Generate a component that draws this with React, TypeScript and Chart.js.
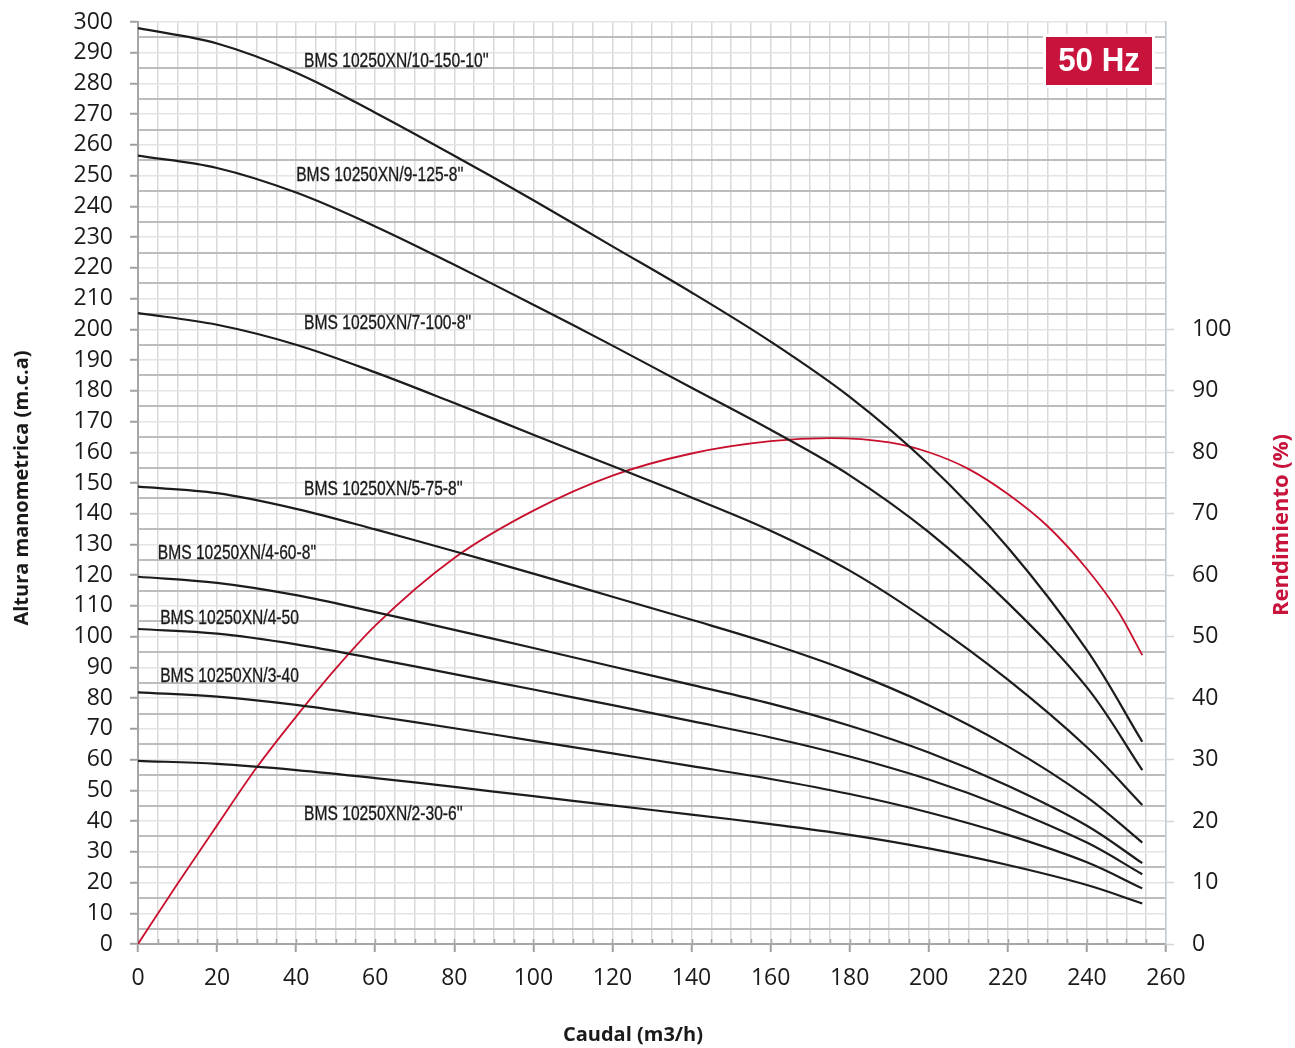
import React, { useEffect, useRef } from 'react';
import { Chart, registerables } from 'chart.js';

Chart.register(...registerables);

// Flow (m3/h) sample points shared by the head curves
const FLOW = [0, 20, 40, 60, 80, 100, 120, 140, 160, 180, 200, 220, 240, 254];

// Head (m.c.a) per pump model
const H_10_150 = [298, 293, 283.5, 270.5, 256.5, 242, 227, 212, 196, 178, 156, 129, 95.6, 65.8];
const H_9_125 = [256.5, 252.5, 244.5, 233.5, 221, 208, 194.7, 181, 167.3, 152.5, 134, 111, 83.5, 56.6];
const H_7_100 = [205.3, 201.5, 195, 186, 176, 165.7, 155.5, 145.3, 134.5, 121.5, 105, 86, 64, 45.2];
const H_5_75 = [148.8, 146.7, 141.6, 134.9, 127.8, 120.5, 113, 105.5, 97.7, 88.7, 77.7, 64.3, 47.8, 33];
const H_4_60 = [119.5, 117.5, 113.5, 108, 102.2, 96.3, 90.3, 84.3, 78.2, 71, 62.3, 51.5, 38.5, 26.3];
const H_4_50 = [102.5, 101, 97.5, 92.8, 87.8, 82.8, 77.7, 72.5, 67.2, 61, 53.5, 44.2, 33, 22.7];
const H_3_40 = [81.9, 80.5, 77.8, 74.1, 70.2, 66.1, 62, 57.9, 53.7, 48.8, 42.8, 35.5, 26.6, 18.1];
const H_2_30 = [59.6, 58.6, 56.6, 54, 51.1, 48.1, 45.1, 42.1, 39, 35.5, 31.1, 25.7, 19.2, 13.2];

// Efficiency curve (%), right axis
const EFF_FLOW = [0, 10, 20, 30, 40, 50, 60, 80, 100, 120, 140, 160, 175, 190, 200, 210, 220, 230, 240, 248, 254];
const EFF = [0, 9.8, 19.3, 28.7, 37, 44.8, 51.8, 62.8, 70.5, 76.2, 79.8, 81.8, 82.3, 81.6, 80, 77.3, 73.2, 68, 61, 54, 47];

const CURVE_NAMES = [
  "BMS 10250XN/10-150-10''",
  "BMS 10250XN/9-125-8''",
  "BMS 10250XN/7-100-8''",
  "BMS 10250XN/5-75-8''",
  "BMS 10250XN/4-60-8''",
  "BMS 10250XN/4-50",
  "BMS 10250XN/3-40",
  "BMS 10250XN/2-30-6''",
];
const LABEL_X = [42, 40, 42, 42, 5, 5.6, 5.6, 42];
const LABEL_Y = [287, 250, 202, 148, 127, 106, 87, 42];

const HEADS = [H_10_150, H_9_125, H_7_100, H_5_75, H_4_60, H_4_50, H_3_40, H_2_30];

const X_TITLE = 'Caudal (m3/h)';
const Y_TITLE = 'Altura manometrica (m.c.a)';
const Y1_TITLE = 'Rendimiento (%)';
const BADGE = '50 Hz';

const RED = '#c8143c';
const TICK_FONT = { family: "'Open Sans', sans-serif", size: 23 };

const overlayPlugin = {
  id: 'overlay',
  afterDatasetsDraw(chart: any) {
    const { ctx, chartArea, scales } = chart;
    const xs = scales.x;
    const ys = scales.y;
    // curve labels
    ctx.save();
    ctx.fillStyle = '#1a1a1a';
    ctx.strokeStyle = '#1a1a1a';
    ctx.lineWidth = 0.35;
    ctx.font = "20px 'Liberation Sans', Arial, sans-serif";
    ctx.textBaseline = 'middle';
    ctx.textAlign = 'left';
    CURVE_NAMES.forEach((name, i) => {
      const px = xs.getPixelForValue(LABEL_X[i]);
      const py = ys.getPixelForValue(LABEL_Y[i]);
      ctx.save();
      ctx.translate(px, py);
      ctx.scale(0.78, 1);
      ctx.fillText(name, 0, 0);
      ctx.strokeText(name, 0, 0);
      ctx.restore();
    });
    ctx.restore();

    // minor ticks inside the plot along the x axis
    ctx.save();
    ctx.strokeStyle = '#a6a6a6';
    ctx.lineWidth = 1.5;
    for (let v = 5; v < 260; v += 5) {
      const px = Math.round(xs.getPixelForValue(v)) + 0.5;
      ctx.beginPath();
      ctx.moveTo(px, chartArea.bottom);
      ctx.lineTo(px, chartArea.bottom - 5);
      ctx.stroke();
    }
    ctx.restore();

    // 50 Hz badge
    ctx.save();
    const bw = 106, bh = 48;
    const bx = chartArea.right - 14 - bw;
    const by = chartArea.top + 15;
    ctx.fillStyle = '#ffffff';
    ctx.fillRect(bx - 3, by - 3, bw + 6, bh + 6);
    ctx.fillStyle = RED;
    ctx.fillRect(bx, by, bw, bh);
    ctx.fillStyle = '#ffffff';
    ctx.font = "bold 34px 'Liberation Sans', Arial, sans-serif";
    ctx.textAlign = 'center';
    ctx.textBaseline = 'middle';
    ctx.translate(bx + bw / 2, by + bh / 2 + 1);
    ctx.scale(0.92, 1);
    ctx.fillText(BADGE, 0, 0);
    ctx.restore();

    // axis titles
    ctx.save();
    ctx.textAlign = 'center';
    ctx.textBaseline = 'middle';
    ctx.fillStyle = '#1a1a1a';
    ctx.font = "bold 20px 'Open Sans', sans-serif";
    ctx.fillText(X_TITLE, 633, 1035);
    ctx.save();
    ctx.translate(22, 488);
    ctx.rotate(-Math.PI / 2);
    ctx.fillText(Y_TITLE, 0, 0);
    ctx.restore();
    ctx.fillStyle = RED;
    ctx.font = "bold 22px 'Open Sans', sans-serif";
    ctx.translate(chart.width - 13, 525);
    ctx.rotate(-Math.PI / 2);
    ctx.fillText(Y1_TITLE, 0, 0);
    ctx.restore();
  },
};

export default function App() {
  const ref = useRef<HTMLCanvasElement | null>(null);

  useEffect(() => {
    document.body.style.margin = '0';
    const canvas = ref.current;
    if (!canvas) return;

    const headSets = HEADS.map((arr, i) => ({
      label: CURVE_NAMES[i],
      data: FLOW.map((q, j) => ({ x: q, y: arr[j] })),
      borderColor: '#1c1c1c',
      borderWidth: 2.2,
      pointRadius: 0,
      fill: false,
      tension: 0.35,
      yAxisID: 'y',
    }));

    const effSet = {
      label: Y1_TITLE,
      data: EFF_FLOW.map((q, j) => ({ x: q, y: EFF[j] })),
      borderColor: '#c8102e',
      borderWidth: 1.8,
      pointRadius: 0,
      fill: false,
      cubicInterpolationMode: 'monotone' as const,
      yAxisID: 'y1',
    };

    const chart = new Chart(canvas, {
      type: 'line',
      data: { datasets: [...headSets, effSet] },
      options: {
        animation: false,
        responsive: false,
        devicePixelRatio: 1,
        layout: { padding: { top: 22, left: 0, right: 0, bottom: 0 } },
        plugins: { legend: { display: false }, tooltip: { enabled: false } },
        scales: {
          x: {
            type: 'linear',
            min: 0,
            max: 260,
            afterFit: (s: any) => { s.height = 104; s.paddingLeft = 0; s.paddingRight = 0; },
            ticks: {
              stepSize: 5,
              autoSkip: false,
              maxRotation: 0,
              padding: 13,
              color: '#1a1a1a',
              font: TICK_FONT,
              callback: (v: any) => (Number(v) % 20 === 0 ? String(v) : ''),
            },
            grid: {
              color: '#d9d9d9',
              lineWidth: 1.5,
              tickLength: 8,
              tickColor: (c: any) => (c.tick && c.tick.value % 20 === 0 ? '#a0a0a0' : 'rgba(0,0,0,0)'),
              tickWidth: 2,
            },
            border: { color: '#a6a6a6', width: 2 },
          },
          y: {
            type: 'linear',
            position: 'left',
            min: 0,
            max: 300,
            afterFit: (s: any) => { s.width = 138; s.paddingTop = 0; s.paddingBottom = 0; },
            ticks: {
              stepSize: 5,
              autoSkip: false,
              padding: 17,
              color: '#1a1a1a',
              font: TICK_FONT,
              callback: (v: any) => (Number(v) % 10 === 0 ? String(v) : ''),
            },
            grid: {
              color: (c: any) => (c.tick && c.tick.value % 10 === 0 ? '#e4e4e4' : '#bdbdbd'),
              lineWidth: (c: any) => (c.tick && c.tick.value % 10 === 0 ? 1.5 : 2),
              tickLength: 8,
              tickColor: (c: any) => (c.tick && c.tick.value % 10 === 0 ? '#a0a0a0' : 'rgba(0,0,0,0)'),
              tickWidth: 2,
            },
            border: { color: '#a6a6a6', width: 2 },
          },
          y1: {
            type: 'linear',
            position: 'right',
            min: 0,
            max: 150,
            afterFit: (s: any) => { s.width = 129; s.paddingTop = 0; s.paddingBottom = 0; },
            afterBuildTicks: (s: any) => { s.ticks = s.ticks.filter((t: any) => t.value <= 100); },
            ticks: {
              stepSize: 10,
              padding: 18,
              color: '#1a1a1a',
              font: TICK_FONT,
            },
            grid: {
              drawOnChartArea: false,
              tickLength: 8,
              tickColor: '#cfd3da',
              tickWidth: 1.5,
            },
            border: { color: '#c5cbd6', width: 1.5 },
          },
        },
      },
      plugins: [overlayPlugin],
    } as any);

    return () => chart.destroy();
  }, []);

  return (
    <div style={{ width: 1295, height: 1048, background: '#ffffff' }}>
      <canvas ref={ref} width={1295} height={1048} style={{ display: 'block' }} />
    </div>
  );
}
